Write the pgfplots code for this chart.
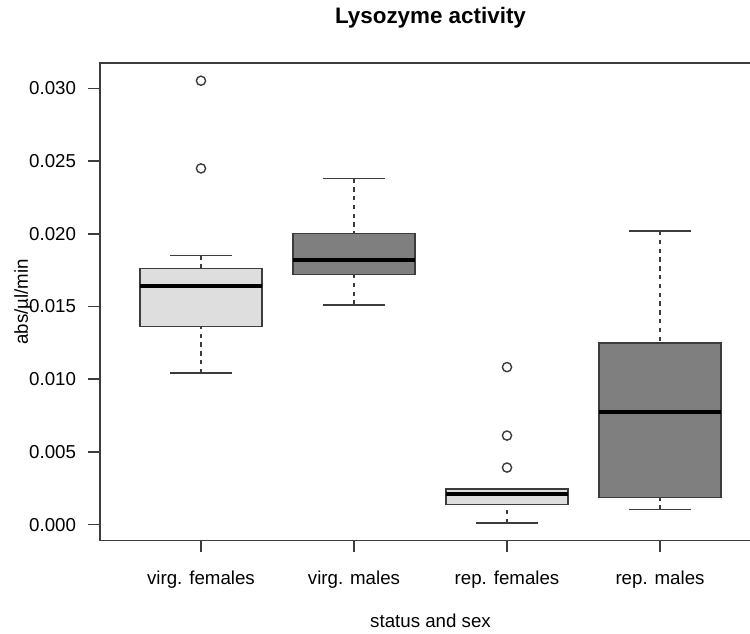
\documentclass[border=0pt]{standalone}
\usepackage{pgfplots}
\pgfplotsset{compat=1.18}
\usepgfplotslibrary{statistics}
\usepackage{fontspec}
\setmainfont{Liberation Sans}
\definecolor{lightfill}{HTML}{DEDEDE}
\definecolor{darkfill}{HTML}{7F7F7F}
\definecolor{edge}{HTML}{3C3C3C}
\begin{document}
\fontsize{9.35}{11.2}\selectfont
% values are given in units of 0.001 abs/ul/min
\begin{tikzpicture}
\useasboundingbox (0,0) rectangle (375pt,316.5pt);
\clip (0,0) rectangle (375pt,316.5pt);
\begin{axis}[
  at={(50pt,46.15pt)}, anchor=south west,
  scale only axis, width=330.5pt, height=238.85pt,
  xmin=0.34, xmax=4.66, ymin=-1.11, ymax=31.75,
  axis line style={edge, line width=0.75pt},
  tick pos=left, tick align=outside, major tick length=5.8pt,
  tick style={edge, line width=0.7pt},
  xtick={1,2,3,4},
  xticklabels={virg. females, virg. males, rep. females, rep. males},
  ytick={0,5,10,15,20,25,30},
  yticklabels={0.000,0.005,0.010,0.015,0.020,0.025,0.030},
  ticklabel style={font=\fontsize{9.35}{11.2}\selectfont},
  xticklabel style={anchor=base, yshift=-16pt},
  yticklabel style={anchor=east, inner sep=0pt, xshift=-6pt},
  title={Lysozyme activity},
  title style={font=\fontsize{11.2}{13}\selectfont\bfseries, anchor=base, at={([yshift=13.5pt]axis description cs:0.5,1)}},
  xlabel={status and sex},
  xlabel style={font=\fontsize{9.35}{11.2}\selectfont, anchor=base, at={([yshift=-43.15pt]axis description cs:0.5,0)}},
  ylabel={abs/µl/min},
  ylabel style={font=\fontsize{9.35}{11.2}\selectfont, anchor=base, at={([xshift=-36pt]axis description cs:0,0.5)}},
  boxplot/draw direction=y,
  boxplot/box extend=0.8,
  boxplot/whisker extend=0.4,
  boxplot/every median/.style={black, line width=2pt},
  boxplot/draw/lower whisker/.code={%
    \draw[edge, line width=0.7pt, dash pattern=on 2.2pt off 2.2pt]
      (boxplot cs:\pgfplotsboxplotvalue{lower whisker}) -- (boxplot cs:\pgfplotsboxplotvalue{lower quartile});
    \draw[edge, line width=0.75pt]
      (boxplot whisker cs:\pgfplotsboxplotvalue{lower whisker},0) -- (boxplot whisker cs:\pgfplotsboxplotvalue{lower whisker},1);
  },
  boxplot/draw/upper whisker/.code={%
    \draw[edge, line width=0.7pt, dash pattern=on 2.2pt off 2.2pt]
      (boxplot cs:\pgfplotsboxplotvalue{upper whisker}) -- (boxplot cs:\pgfplotsboxplotvalue{upper quartile});
    \draw[edge, line width=0.75pt]
      (boxplot whisker cs:\pgfplotsboxplotvalue{upper whisker},0) -- (boxplot whisker cs:\pgfplotsboxplotvalue{upper whisker},1);
  },
]
% virg. females
\addplot[draw=edge, mark=o, mark size=2.3pt, mark options={edge, line width=0.7pt, solid},
  boxplot prepared={draw position=1, lower whisker=10.41, lower quartile=13.61, median=16.41,
    upper quartile=17.60, upper whisker=18.52,
    every box/.style={draw=edge, line width=0.75pt, fill=lightfill}}]
  table[row sep=\\, y index=0] {data\\ 30.53\\ 24.50\\};
% virg. males
\addplot[draw=edge, mark=o, mark size=2.3pt, mark options={edge, line width=0.7pt, solid},
  boxplot prepared={draw position=2, lower whisker=15.12, lower quartile=17.21, median=18.22,
    upper quartile=20.01, upper whisker=23.81,
    every box/.style={draw=edge, line width=0.75pt, fill=darkfill}}]
  coordinates {};
% rep. females
\addplot[draw=edge, mark=o, mark size=2.3pt, mark options={edge, line width=0.7pt, solid},
  boxplot prepared={draw position=3, lower whisker=0.11, lower quartile=1.39, median=2.11,
    upper quartile=2.45, upper whisker=2.45,
    every box/.style={draw=edge, line width=0.75pt, fill=lightfill}}]
  table[row sep=\\, y index=0] {data\\ 10.83\\ 6.12\\ 3.92\\};
% rep. males
\addplot[draw=edge, mark=o, mark size=2.3pt, mark options={edge, line width=0.7pt, solid},
  boxplot prepared={draw position=4, lower whisker=1.03, lower quartile=1.85, median=7.71,
    upper quartile=12.48, upper whisker=20.19,
    every box/.style={draw=edge, line width=0.75pt, fill=darkfill}}]
  coordinates {};
\end{axis}
\end{tikzpicture}
\end{document}
